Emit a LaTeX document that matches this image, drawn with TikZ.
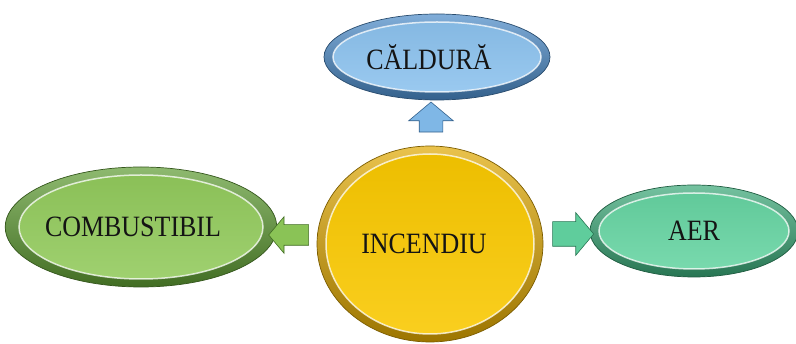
\documentclass[tikz,border=0pt]{standalone}
\usepackage{fontspec}
\setmainfont[FakeStretch=0.88]{Liberation Serif}
\usetikzlibrary{shapes.geometric,shapes.arrows,shadings}
\definecolor{calBody}{HTML}{8CC2EE}
\definecolor{calRim}{HTML}{4A8AC8}
\definecolor{combBody}{HTML}{92CA5C}
\definecolor{combRim}{HTML}{5E9C32}
\definecolor{incBody}{HTML}{F9C800}
\definecolor{incRim}{HTML}{E0A800}
\definecolor{aerBody}{HTML}{66D4A2}
\definecolor{aerRim}{HTML}{39A877}
\definecolor{txt}{HTML}{141414}
\tikzset{
  blob/.style n args={4}{ellipse, inner sep=0pt,
    minimum width={2*#3pt}, minimum height={2*#4pt},
    draw=#2!55!black, line width=0.7pt, text=txt,
    font=\fontsize{29.5}{33}\selectfont,
    path picture={
      \path[top color=#2!70!white, bottom color=#2!70!black]
        (path picture bounding box.south west) rectangle (path picture bounding box.north east);
      \path[top color=#1!95!black, bottom color=#1!88!white,
            draw=white, draw opacity=0.75, line width=1.5pt]
        (path picture bounding box.center) ellipse [x radius={#3pt-9pt}, y radius={#4pt-8pt}];
    }},
  blockarrow/.style 2 args={single arrow, draw=#2, fill=#1,
    line width=0.6pt, single arrow tip angle=100},
}
\begin{document}
\begin{tikzpicture}[x=1pt,y=-1pt]
\useasboundingbox (0,0) rectangle (796,344);
\node[blob={calBody}{calRim}{113}{43}] (cal) at (437,57) {CĂLDURĂ\hspace*{16pt}};
\node[blob={combBody}{combRim}{131}{60}] (comb) at (141,227) {COMBUSTIBIL\hspace*{16pt}};
\node[blob={incBody}{incRim}{113}{98}] (inc) at (430,244) {INCENDIU\hspace*{12pt}};
\node[blob={aerBody}{aerRim}{104}{46}] (aer) at (694,231) {AER};
\node[blockarrow={calBody!80!calRim}{calRim!70!black}, shape border rotate=90,
  minimum height=30pt, inner xsep=11.5pt, inner ysep=0pt, single arrow head extend=10.5pt] (up) at (431,122) {};
\node[blockarrow={combBody!85!combRim}{combRim!70!black}, shape border rotate=180,
  minimum height=40pt, inner xsep=0pt, inner ysep=10pt, single arrow head extend=8pt] (lt) at (293,235) {};
\node[blockarrow={aerBody!85!aerRim}{aerRim!70!black},
  minimum height=41pt, inner xsep=0pt, inner ysep=12pt, single arrow head extend=9pt] (rt) at (568,234) {};
\end{tikzpicture}
\end{document}
